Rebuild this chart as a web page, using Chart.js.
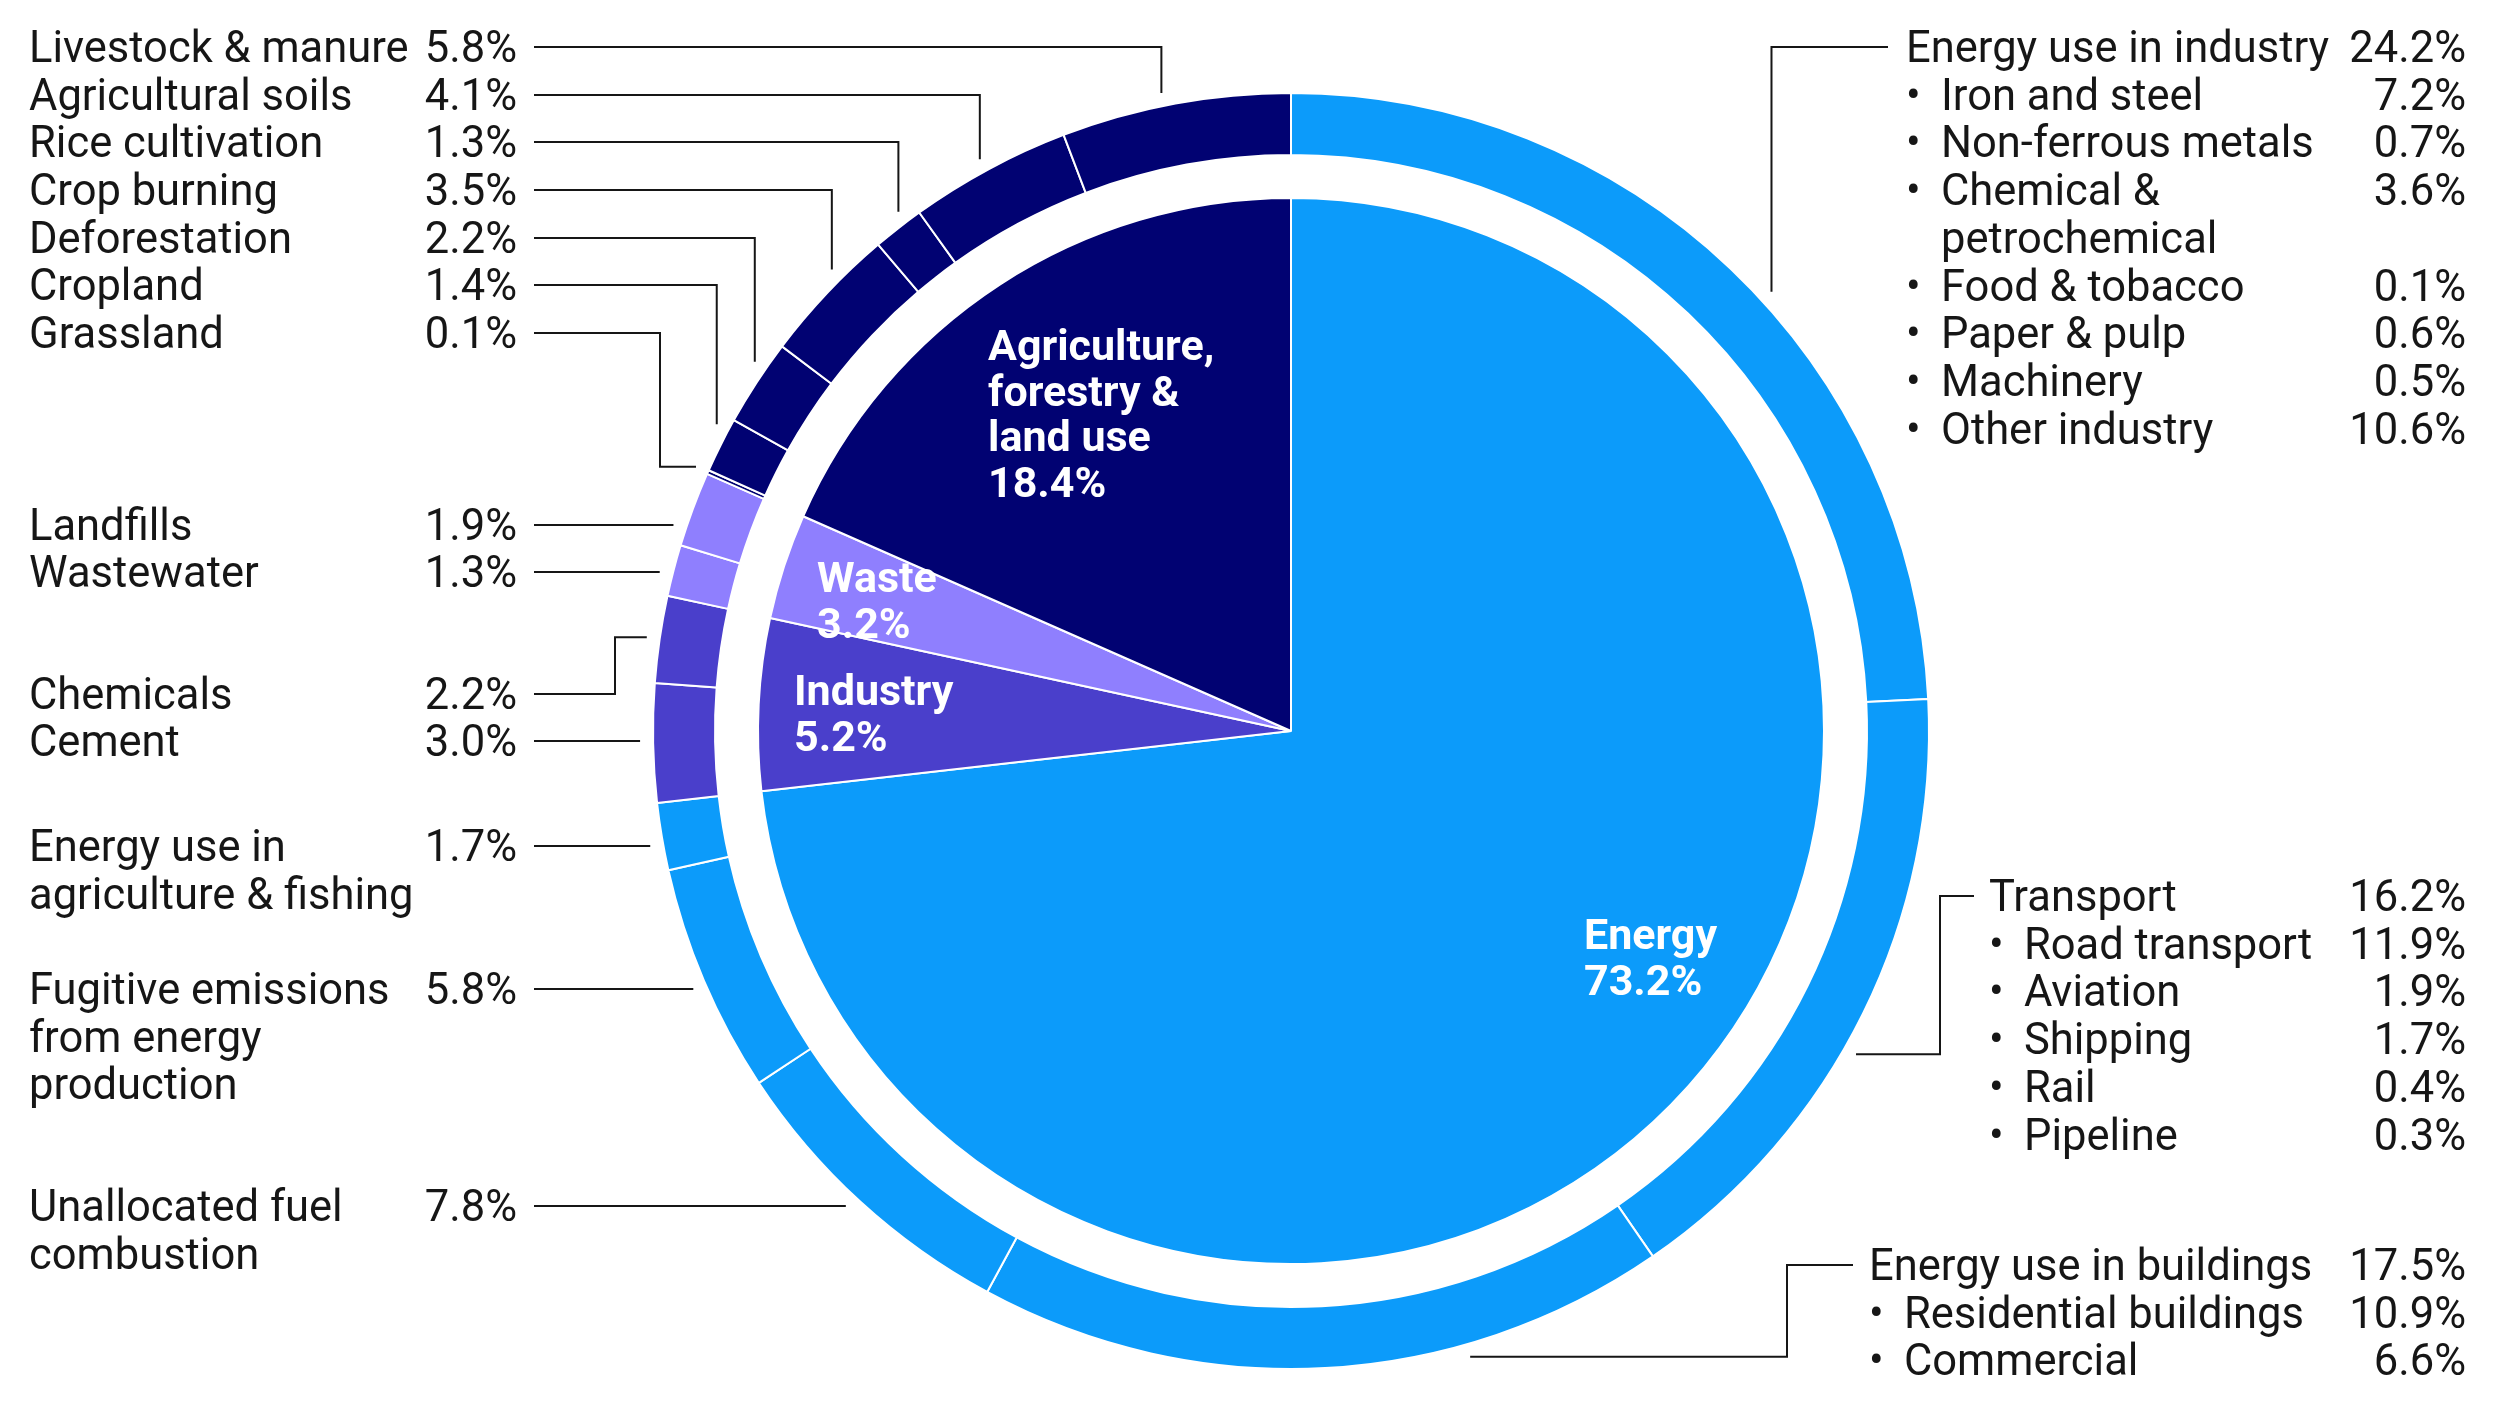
<!DOCTYPE html>
<html>
<head>
<meta charset="utf-8">
<script src="https://cdn.jsdelivr.net/npm/chart.js@4.4.1/dist/chart.umd.min.js"></script>
<style>
html, body { margin: 0; padding: 0; background: #fff; }
#wrap { width: 2496px; height: 1404px; position: relative; }
</style>
</head>
<body>
<div id="wrap"><canvas id="emissions"></canvas></div>
<script>
// main sectors (inner pie), clockwise from 12 o'clock
const sectorNames = ['Energy', 'Industry', 'Waste', 'Agriculture, forestry & land use']
const sectorValues = [73.2, 5.2, 3.2, 18.4]
const sectorColors = ['#0c9bfa', '#4a3fcb', '#8f7ffe', '#010272']

// sub-sectors (outer ring), same clockwise order
const ringNames = [
    'Energy use in industry',
    'Transport',
    'Energy use in buildings',
    'Unallocated fuel combustion',
    'Fugitive emissions from energy production',
    'Energy use in agriculture & fishing',
    'Cement',
    'Chemicals',
    'Wastewater',
    'Landfills',
    'Grassland',
    'Cropland',
    'Deforestation',
    'Crop burning',
    'Rice cultivation',
    'Agricultural soils',
    'Livestock & manure'
]
const ringValues = [24.2, 16.2, 17.5, 7.8, 5.8, 1.7, 3.0, 2.2, 1.3, 1.9, 0.1, 1.4, 2.2, 3.5, 1.3, 4.1, 5.8]
const ringSector = [0, 0, 0, 0, 0, 0, 1, 1, 2, 2, 3, 3, 3, 3, 3, 3, 3]

// breakdowns listed on the right
const industryNames = ['Iron and steel', 'Non-ferrous metals', 'Chemical & petrochemical', 'Food & tobacco', 'Paper & pulp', 'Machinery', 'Other industry']
const industryValues = [7.2, 0.7, 3.6, 0.1, 0.6, 0.5, 10.6]
const transportNames = ['Road transport', 'Aviation', 'Shipping', 'Rail', 'Pipeline']
const transportValues = [11.9, 1.9, 1.7, 0.4, 0.3]
const buildingNames = ['Residential buildings', 'Commercial']
const buildingValues = [10.9, 6.6]

// text layout
const LH = 47.7
const GAP = 13
const FONT = '43.5px Roboto, "Liberation Sans", sans-serif'
const BOLD = 'bold 43px Roboto, "Liberation Sans", sans-serif'
const INK = '#161616'
const LEFT_X = 29, LEFT_PCT = 517, LEFT_LINE = 534
const RIGHT_PCT = 2466

const wraps = {
    'Energy use in agriculture & fishing': ['Energy use in', 'agriculture & fishing'],
    'Fugitive emissions from energy production': ['Fugitive emissions', 'from energy', 'production'],
    'Unallocated fuel combustion': ['Unallocated fuel', 'combustion'],
    'Chemical & petrochemical': ['Chemical &', 'petrochemical'],
    'Agriculture, forestry & land use': ['Agriculture,', 'forestry &', 'land use']
}
const linesOf = name => wraps[name] || [name]
const pct = v => v.toFixed(1) + '%'

// t = where along the slice the leader lands (0 = start, 1 = end, clockwise)
const leftLayout = [
    { i: 16, base: 62, kind: 'hv', t: 0.45 },
    { i: 15, base: 110, kind: 'hv', t: 0.48 },
    { i: 14, base: 157, kind: 'hv', t: 0.69 },
    { i: 13, base: 205, kind: 'hv', t: 0.64 },
    { i: 12, base: 253, kind: 'hv', t: 0.68 },
    { i: 11, base: 300, kind: 'hv', t: 0.79 },
    { i: 10, base: 348, kind: 'hvh', corner: 660, t: 0.5 },
    { i: 9, base: 540, kind: 'h' },
    { i: 8, base: 587, kind: 'h' },
    { i: 7, base: 709, kind: 'hvh', corner: 615, t: 0.5 },
    { i: 6, base: 756, kind: 'h' },
    { i: 5, base: 861, kind: 'h' },
    { i: 4, base: 1004, kind: 'h' },
    { i: 3, base: 1221, kind: 'h' }
]

const rightLayout = [
    { i: 0, base: 62, x: 1906, sub: 1941, start: 1888, kind: 'hv', t: 0.546, names: industryNames, values: industryValues },
    { i: 1, base: 911, x: 1989, sub: 2024, start: 1974, kind: 'hvh', corner: 1940, t: 0.56, names: transportNames, values: transportValues },
    { i: 2, base: 1280, x: 1869, sub: 1904, start: 1853, kind: 'hvh', corner: 1787, t: 0.295, names: buildingNames, values: buildingValues }
]

const innerLayout = [
    { x: 1584, base: 949 },
    { x: 794, base: 705 },
    { x: 817, base: 592 },
    { x: 988, base: 360 }
]
const INNER_LH = 45.5

const sideLabels = {
    id: 'sideLabels',
    afterDraw(chart) {
        const ctx = chart.ctx
        const ring = chart.getDatasetMeta(0).data
        const pie = chart.getDatasetMeta(2).data
        const cx = ring[0].x, cy = ring[0].y
        const R = ring[0].outerRadius + GAP

        const arcPoint = (arc, t) => {
            const a = arc.startAngle + t * (arc.endAngle - arc.startAngle)
            return { x: cx + R * Math.cos(a), y: cy + R * Math.sin(a) }
        }
        const polyline = pts => {
            ctx.beginPath()
            ctx.moveTo(pts[0][0], pts[0][1])
            pts.slice(1).forEach(p => ctx.lineTo(p[0], p[1]))
            ctx.stroke()
        }

        ctx.save()
        ctx.strokeStyle = INK
        ctx.lineWidth = 2
        ctx.fillStyle = INK
        ctx.textBaseline = 'alphabetic'
        ctx.font = FONT

        // left column
        leftLayout.forEach(l => {
            ctx.textAlign = 'left'
            linesOf(ringNames[l.i]).forEach((s, k) => ctx.fillText(s, LEFT_X, l.base + k * LH))
            ctx.textAlign = 'right'
            ctx.fillText(pct(ringValues[l.i]), LEFT_PCT, l.base)

            const y = l.base - 15
            if (l.kind === 'h') {
                polyline([[LEFT_LINE, y], [cx - Math.sqrt(R * R - (y - cy) ** 2), y]])
            } else {
                const p = arcPoint(ring[l.i], l.t)
                if (l.kind === 'hv') polyline([[LEFT_LINE, y], [p.x, y], [p.x, p.y]])
                else polyline([[LEFT_LINE, y], [l.corner, y], [l.corner, p.y], [p.x, p.y]])
            }
        })

        // right column
        rightLayout.forEach(g => {
            ctx.textAlign = 'left'
            ctx.fillText(ringNames[g.i], g.x, g.base)
            ctx.textAlign = 'right'
            ctx.fillText(pct(ringValues[g.i]), RIGHT_PCT, g.base)
            let row = 1
            g.names.forEach((name, k) => {
                const b = g.base + row * LH
                ctx.textAlign = 'left'
                ctx.fillText('\u2022', g.x, b)
                linesOf(name).forEach((s, j) => ctx.fillText(s, g.sub, b + j * LH))
                ctx.textAlign = 'right'
                ctx.fillText(pct(g.values[k]), RIGHT_PCT, b)
                row += linesOf(name).length
            })

            const y = g.base - 15
            const p = arcPoint(ring[g.i], g.t)
            if (g.kind === 'hv') polyline([[g.start, y], [p.x, y], [p.x, p.y]])
            else polyline([[g.start, y], [g.corner, y], [g.corner, p.y], [p.x, p.y]])
        })

        // sector labels inside the pie
        ctx.font = BOLD
        ctx.fillStyle = '#ffffff'
        ctx.textAlign = 'left'
        pie.forEach((arc, i) => {
            const l = innerLayout[i]
            const lines = linesOf(sectorNames[i]).concat([pct(sectorValues[i])])
            lines.forEach((s, k) => ctx.fillText(s, l.x, l.base + k * INNER_LH))
        })
        ctx.restore()
    }
}

new Chart(document.getElementById('emissions'), {
    type: 'doughnut',
    data: {
        labels: ringNames,
        datasets: [
            {
                data: ringValues,
                backgroundColor: ringSector.map(s => sectorColors[s]),
                borderColor: '#ffffff',
                borderWidth: 2,
                weight: 62
            },
            {
                // white gap between ring and pie
                data: [1],
                backgroundColor: 'rgba(0,0,0,0)',
                borderWidth: 0,
                weight: 43
            },
            {
                data: sectorValues,
                backgroundColor: sectorColors,
                borderColor: '#ffffff',
                borderWidth: 2,
                weight: 533
            }
        ]
    },
    options: {
        responsive: true,
        maintainAspectRatio: false,
        animation: false,
        radius: 638,
        cutout: 0,
        layout: { padding: { left: 86, top: 58, right: 0, bottom: 0 } },
        plugins: {
            legend: { display: false },
            tooltip: { enabled: false }
        }
    },
    plugins: [sideLabels]
})
</script>
</body>
</html>
